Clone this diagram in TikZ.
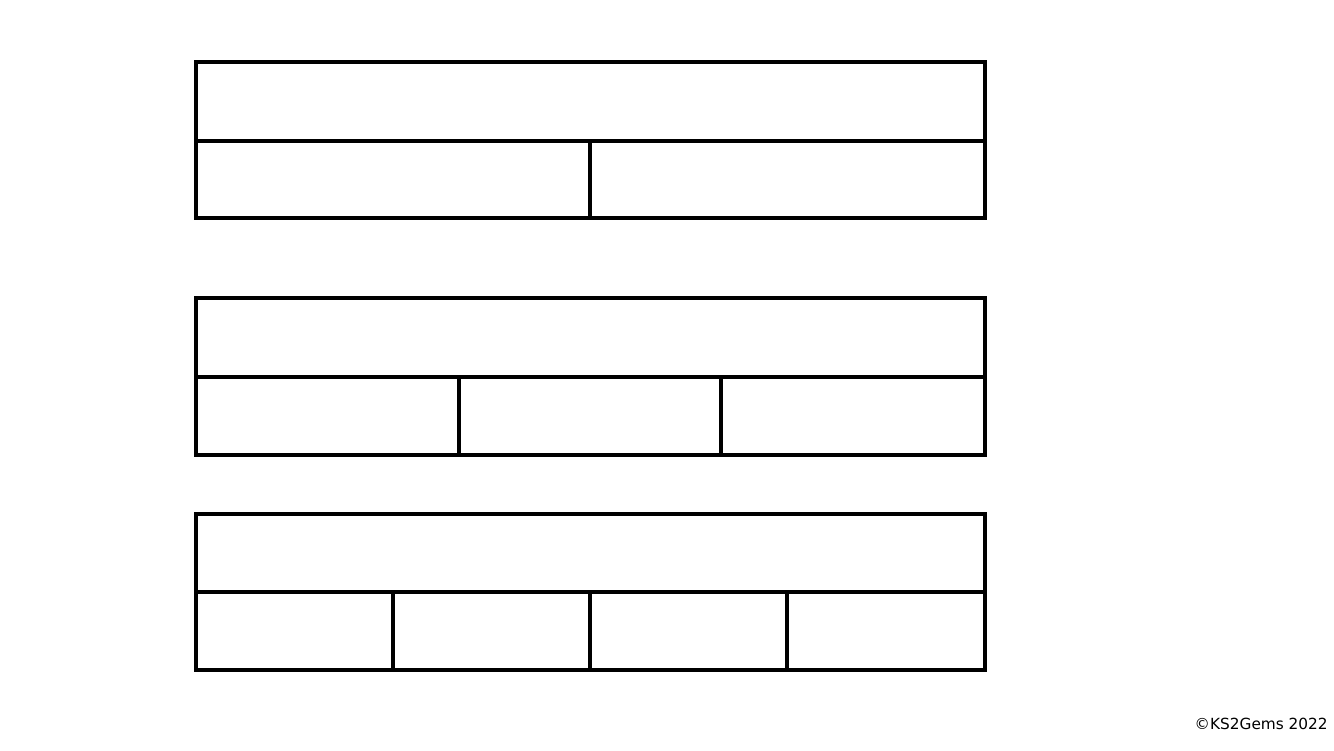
\documentclass[tikz,border=0pt]{standalone}
\usepackage{fontspec}
\setmainfont{DejaVu Sans}
\begin{document}
\begin{tikzpicture}[x=0.75pt,y=-0.75pt,
  outer/.style={draw=black,line width=3.4pt},
  inner/.style={draw=black,line width=2.4pt}]
\useasboundingbox (0,0) rectangle (1334,750);
% bar 1
\draw[inner] (196,141) -- (985,141);
\draw[inner] (590,141) -- (590,218);
\draw[outer] (196,62) rectangle (985,218);
% bar 2
\draw[inner] (196,377) -- (985,377);
\draw[inner] (459,377) -- (459,455);
\draw[inner] (721,377) -- (721,455);
\draw[outer] (196,298) rectangle (985,455);
% bar 3
\draw[inner] (196,592) -- (985,592);
\draw[inner] (393,592) -- (393,670);
\draw[inner] (590,592) -- (590,670);
\draw[inner] (787,592) -- (787,670);
\draw[outer] (196,514) rectangle (985,670);
% copyright
\node[anchor=base east,inner sep=0pt,font=\fontsize{11.5pt}{13pt}\selectfont] (copy) at (1328,729) {©KS2Gems 2022};
\end{tikzpicture}
\end{document}
